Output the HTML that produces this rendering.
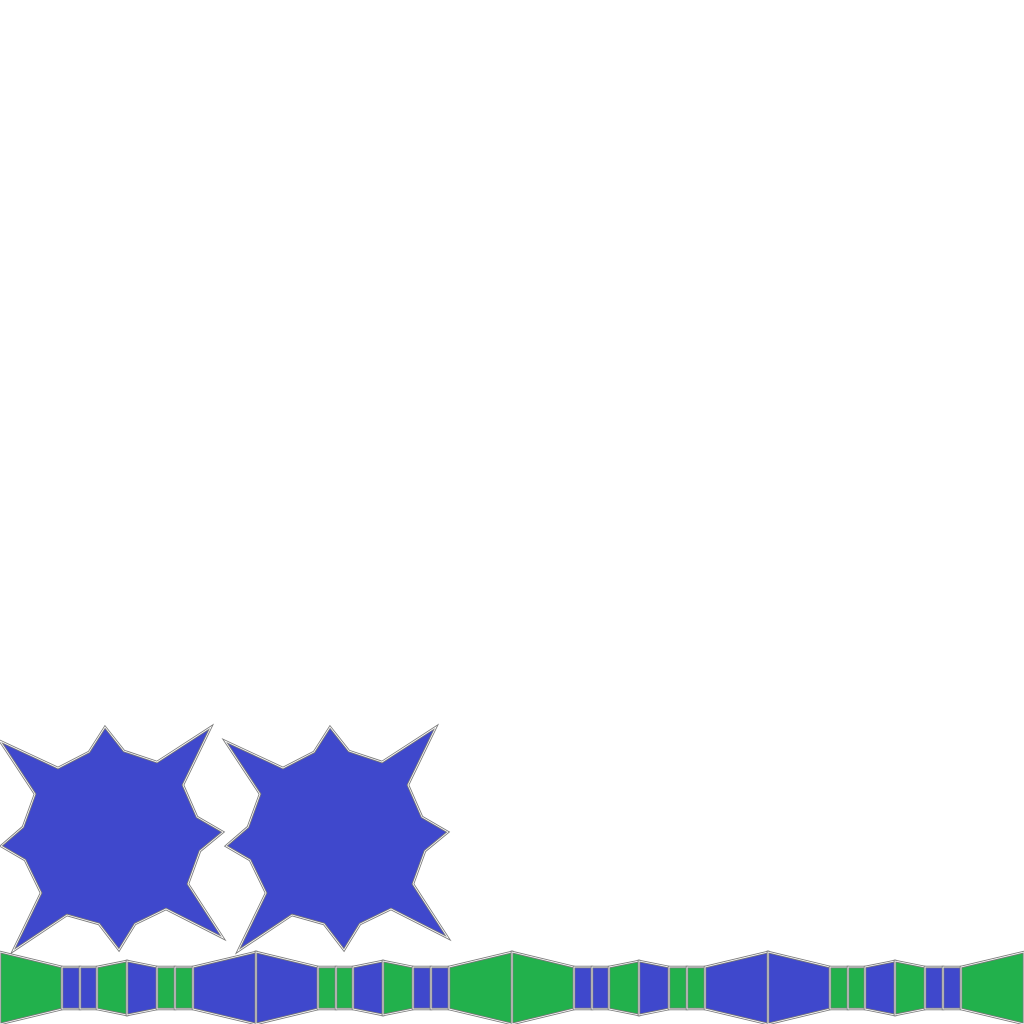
<!DOCTYPE html>
<html><head><meta charset="utf-8"><style>html,body{margin:0;padding:0;background:#fff;}svg{display:block;}</style></head>
<body>
<svg id="c" width="1024" height="1024" viewBox="0 0 1024 1024" xmlns="http://www.w3.org/2000/svg"></svg>
<script>
const starPoints=[[0,741],[58,768],[89,752],[105,727],[124,751],[157,762],[211,727],[183,785],[197,817],[223,832],[200,851],[188,884],[223,938],[166,909],[135,924],[119,950],[99,924],[67,915],[13,951],[41,893],[25,860],[1,846],[23,827],[35,794]];
const starOffsets=[0,225];
const tileA=[[0,62,36,21,'g'],[62,80,21,21,'b'],[80,97,21,21,'b'],[97,127,21,27,'g'],[127,157,27,21,'b'],[157,175,21,21,'g'],[175,193,21,21,'g'],[193,256,21,36,'b']];
const tileOffsets=[0,256,512,768];
const colors={g:'#22b14c',b:'#3f48cc'};
const svg=document.getElementById('c');
const NS='http://www.w3.org/2000/svg';
function poly(pts,fill,name){
  const p=pts.map(q=>q.join(',')).join(' ');
  const a=document.createElementNS(NS,'polygon');
  a.setAttribute('points',p);a.setAttribute('fill',fill);a.setAttribute('stroke','#7a7a7a');a.setAttribute('stroke-width','2.5');a.setAttribute('stroke-linejoin','miter');
  
  
  svg.appendChild(a);
  const b=document.createElementNS(NS,'polygon');
  b.setAttribute('points',p);b.setAttribute('fill','none');b.setAttribute('stroke','#fff');b.setAttribute('stroke-width','0.8');
  
  
  svg.appendChild(b);
}
starOffsets.forEach((o,i)=>poly(starPoints.map(p=>[p[0]+o,p[1]]),colors.b,'star-'+(i+1)));
const cy=988;
tileOffsets.forEach((o,t)=>{
  const mirror=t%2===1;
  tileA.forEach((s,k)=>{
    let c=s[4]; if(mirror) c=(c==='g'?'b':'g');
    const x0=o+s[0],x1=o+s[1];
    poly([[x0,cy-s[2]],[x1,cy-s[3]],[x1,cy+s[3]],[x0,cy+s[2]]],colors[c],'strip-segment-'+t+'-'+k);
  });
});
</script>
</body></html>
